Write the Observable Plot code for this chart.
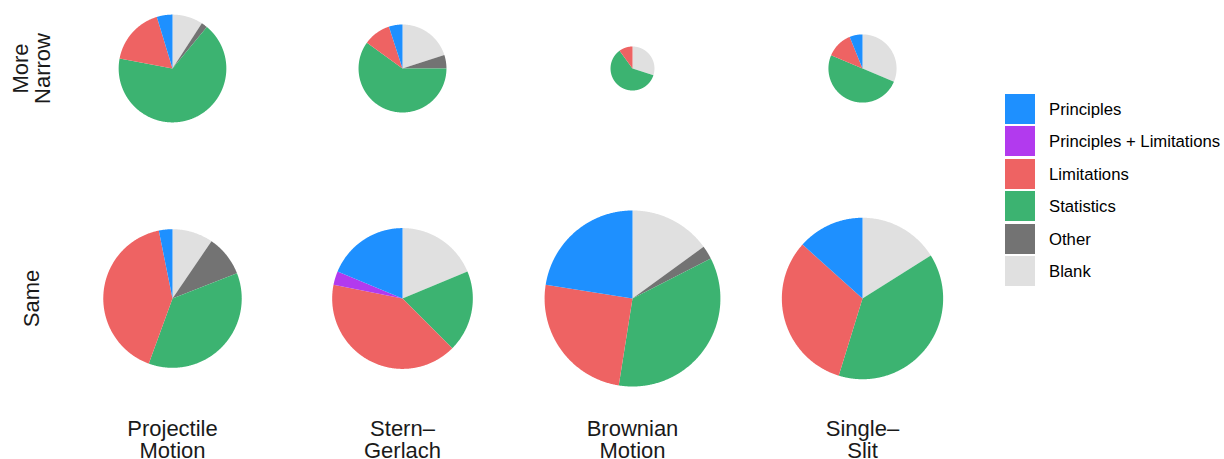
<!DOCTYPE html>
<html>
<head>
<meta charset="utf-8">
<script src="https://cdn.jsdelivr.net/npm/d3@7"></script>
<script src="https://cdn.jsdelivr.net/npm/@observablehq/plot@0.6"></script>
<style>
  html, body { margin: 0; padding: 0; background: #fff; }
  #wrap { position: relative; width: 1224px; height: 459px; font-family: "Liberation Sans", Arial, sans-serif; }
  #legend { position: absolute; left: 1005px; top: 94px; }
  .item { display: flex; align-items: center; height: 30px; margin-bottom: 2.45px; }
  .sw { width: 30px; height: 30px; flex: none; }
  .lab { margin-left: 14px; font-size: 16.7px; color: #000; white-space: nowrap; position: relative; top: 1px; }
</style>
</head>
<body>
<div id="wrap"><div id="chart"></div><div id="legend"></div></div>
<script>
// Categories (legend order) and colours
const categories = ["Principles", "Principles + Limitations", "Limitations", "Statistics", "Other", "Blank"];
const colors = ["#1E90FF", "#B23AEE", "#EE6363", "#3CB371", "#737373", "#E0E0E0"];
// Facet labels
const topics = ["Projectile\nMotion", "Stern–\nGerlach", "Brownian\nMotion", "Single–\nSlit"];
const conditions = ["More\nNarrow", "Same"];
// Each pie: condition and topic
const pieCondition = ["More\nNarrow", "More\nNarrow", "More\nNarrow", "More\nNarrow", "Same", "Same", "Same", "Same"];
const pieTopic = ["Projectile\nMotion", "Stern–\nGerlach", "Brownian\nMotion", "Single–\nSlit",
                  "Projectile\nMotion", "Stern–\nGerlach", "Brownian\nMotion", "Single–\nSlit"];
// Counts per category for each pie
const principles            = [1.15, 1, 0, 0.95, 1,    6, 9,  4.9];
const principlesLimitations = [0,    0, 0, 0,    0,    1, 0,  0];
const limitations           = [4.25, 2, 1, 1.95, 13,  13, 10, 11.7];
const statistics            = [16.4, 12, 6, 7.75, 11.5, 6, 14, 14.2];
const other                 = [0.45, 1, 0, 0,    3,    0, 1,  0];
const blank                 = [2.25, 4, 3, 4.85, 3,    6, 6,  5.9];

const series = {
  "Principles": principles,
  "Principles + Limitations": principlesLimitations,
  "Limitations": limitations,
  "Statistics": statistics,
  "Other": other,
  "Blank": blank
};
// clockwise from 12 o'clock
const stackOrder = ["Blank", "Other", "Statistics", "Limitations", "Principles + Limitations", "Principles"];

const pts = [];
pieTopic.forEach((topic, i) => {
  const total = d3.sum(stackOrder, c => series[c][i]);
  const r = total; // radius proportional to count
  let acc = 0;
  stackOrder.forEach(c => {
    const v = series[c][i];
    if (!(v > 0)) return;
    const a0 = acc / total * 2 * Math.PI;
    const a1 = (acc + v) / total * 2 * Math.PI;
    acc += v;
    const id = i + "|" + c;
    pts.push({id, cat: c, topic, cond: pieCondition[i], x: 0, y: 0});
    const n = Math.max(2, Math.ceil((a1 - a0) / (Math.PI / 360)));
    for (let k = 0; k <= n; k++) {
      const a = a0 + (a1 - a0) * k / n;
      pts.push({id, cat: c, topic, cond: pieCondition[i], x: r * Math.sin(a), y: r * Math.cos(a)});
    }
    pts.push({id, cat: c, topic, cond: pieCondition[i], x: 0, y: 0});
  });
});

const W = 990, H = 459, mL = 56, mR = 13, mT = 0, mB = 93;
const padInner = 0.4087;
const pxPerUnit = 2.2;
const colW = (W - mL - mR) / topics.length;
const step = (H - mT - mB) / (conditions.length - padInner);
const rowH = step * (1 - padInner);
const xh = colW / 2 / pxPerUnit, yh = rowH / 2 / pxPerUnit;

const chart = Plot.plot({
  width: W, height: H,
  marginLeft: mL, marginRight: mR, marginTop: mT, marginBottom: mB,
  style: {fontFamily: "'Liberation Sans', Arial, sans-serif", background: "white"},
  x: {domain: [-xh, xh], axis: null},
  y: {domain: [-yh, yh], axis: null},
  fx: {domain: topics, padding: 0, axis: null},
  fy: {domain: conditions, paddingInner: padInner, paddingOuter: 0, axis: null},
  color: {domain: categories, range: colors},
  marks: [
    Plot.line(pts, {x: "x", y: "y", z: "id", fill: "cat", stroke: "none", fx: "topic", fy: "cond", curve: "linear"}),
    Plot.text(topics, {fx: d => d, fy: () => "Same", frameAnchor: "bottom", dy: 73, text: d => d,
      fontSize: 22, lineAnchor: "middle", lineHeight: 1, fill: "#1a1a1a"}),
    Plot.text(conditions, {fy: d => d, fx: () => topics[0], frameAnchor: "left", dx: -26, rotate: -90,
      text: d => d, fontSize: 22, textAnchor: "middle", lineAnchor: "middle", lineHeight: 1, fill: "#1a1a1a"})
  ]
});
document.getElementById("chart").appendChild(chart);

const cs = chart.scale("color");
const leg = document.getElementById("legend");
cs.domain.forEach((c, i) => {
  const it = document.createElement("div");
  it.className = "item";
  const sw = document.createElement("div");
  sw.className = "sw";
  sw.style.background = cs.range[i];
  const lab = document.createElement("div");
  lab.className = "lab";
  lab.textContent = c;
  it.appendChild(sw); it.appendChild(lab);
  leg.appendChild(it);
});
</script>
</body>
</html>
